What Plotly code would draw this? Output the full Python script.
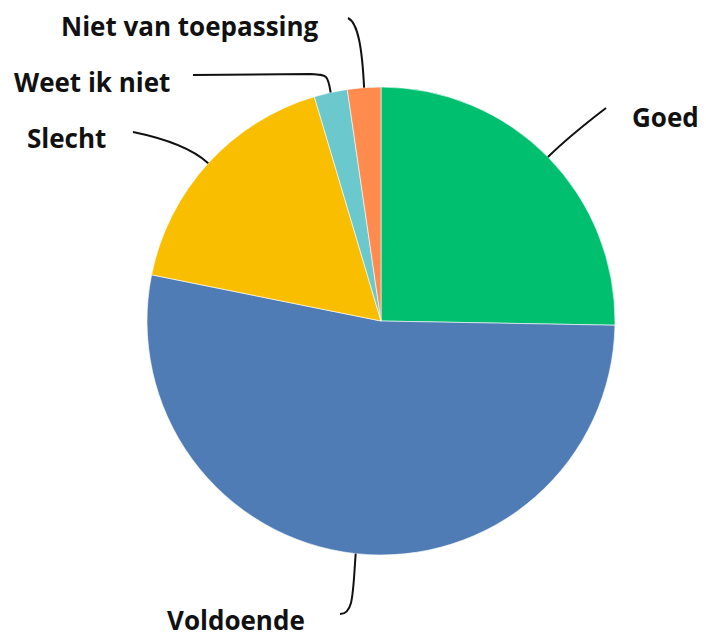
import math
import plotly.graph_objects as go

# antwoorden (aantal respondenten)
labels = ["Goed", "Voldoende", "Slecht", "Weet ik niet", "Niet van toepassing"]
counts = [22, 46, 15, 2, 2]
colors = ["#00BF6F", "#507CB6", "#F9BE00", "#6BC8CD", "#FF8B4F"]

W, H = 706, 639
OFF = 8  # page body margin in the browser
# pie area in screen pixels
PX0, PX1, PY0, PY1 = 147, 615, 87, 555
cx, cy = (PX0 + PX1) / 2 - OFF, (PY0 + PY1) / 2 - OFF
R = (PX1 - PX0) / 2

# label text centre and leader line end (screen pixels), per slice
label_pos = {
    "Goed": (665, 117, 606, 108),
    "Voldoende": (236, 620, 340, 614),
    "Slecht": (66, 138, 133, 132),
    "Weet ik niet": (92, 82, 193, 75),
    "Niet van toepassing": (190, 26, 348, 18),
}

fig = go.Figure()
fig.add_trace(go.Pie(
    labels=labels, values=counts, sort=False, direction="clockwise", rotation=0,
    marker=dict(colors=colors, line=dict(color="white", width=0.6)),
    textinfo="none", hoverinfo="label+percent", showlegend=False,
    domain=dict(x=[(PX0 - OFF) / W, (PX1 - OFF) / W],
                y=[1 - (PY1 - OFF) / H, 1 - (PY0 - OFF) / H]),
))

# invisible pixel axes for annotations and leader lines
fig.update_xaxes(range=[0, W], visible=False, fixedrange=True)
fig.update_yaxes(range=[H, 0], visible=False, fixedrange=True)

total = sum(counts)
acc = 0
for lab, v in zip(labels, counts):
    mid = (acc + v / 2) / total * 2 * math.pi
    acc += v
    sx, sy = cx + R * math.sin(mid), cy - R * math.cos(mid)
    tx, ty, ex, ey = label_pos[lab]
    tx, ty, ex, ey = tx - OFF, ty - OFF, ex - OFF, ey - OFF
    # curved leader line from slice edge to label
    ox, oy = sx + (sx - cx) / R * 30, sy + (sy - cy) / R * 30
    path = f"M {sx:.1f},{sy:.1f} Q {ox:.1f},{oy:.1f} {ex},{ey}"
    if lab == "Weet ik niet":
        path = f"M {sx:.1f},{sy:.1f} C {sx - 3:.1f},{ey} {sx - 3:.1f},{ey} {sx - 20:.1f},{ey - 1} L {ex},{ey}"
    if lab == "Niet van toepassing":
        path = f"M {sx:.1f},{sy:.1f} C {sx - 2:.1f},{sy - 40} {ex + 10},{ey + 5} {ex},{ey}"
    if lab == "Voldoende":
        path = f"M {sx:.1f},{sy:.1f} C {sx - 3:.1f},{sy + 40} {sx - 2:.1f},{ey} {ex},{ey}"
    fig.add_shape(type="path", path=path, xref="x", yref="y",
                  line=dict(color="#111111", width=2))
    fig.add_annotation(x=tx, y=ty, xref="x", yref="y", text=lab, showarrow=False,
                       font=dict(family="Open Sans", size=26, color="#111111", weight="bold"),
                       xanchor="center", yanchor="middle")

fig.update_layout(
    width=W, height=H, margin=dict(l=0, r=0, t=0, b=0),
    paper_bgcolor="white", plot_bgcolor="rgba(0,0,0,0)",
)
fig.write_html("out.html")
